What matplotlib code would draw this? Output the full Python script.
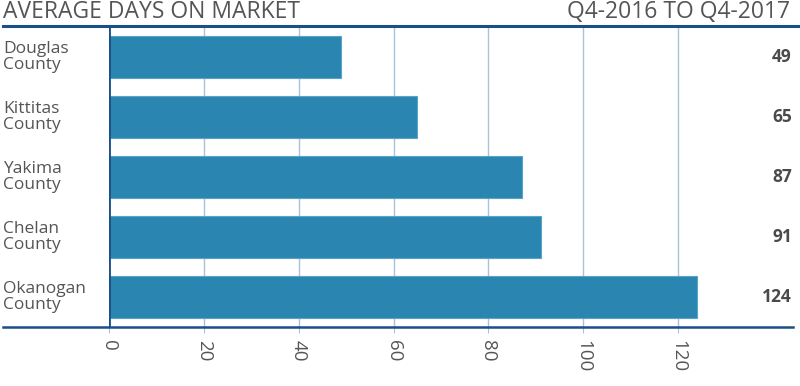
import matplotlib.pyplot as plt
import numpy as np

counties = ["Douglas\nCounty", "Kittitas\nCounty", "Yakima\nCounty",
            "Chelan\nCounty", "Okanogan\nCounty"]
days = [49, 65, 87, 91, 124]
xticks = [0, 20, 40, 60, 80, 100, 120]

bar_color = "#2a86b1"
navy = "#1b4f86"
grid_color = "#a8c2da"
text_color = "#555555"

plt.rcParams['font.family'] = ['Open Sans', 'DejaVu Sans']

fig = plt.figure(figsize=(8, 3.86), dpi=100, facecolor='white')
# axes spans x 109..792 px, y 27..327 px
ax = fig.add_axes([109 / 800, 1 - 327 / 386, (792 - 109) / 800, 300 / 386])

y = np.arange(len(counties))
ax.barh(y, days, height=0.69, color=bar_color, edgecolor="#5aa3c8",
        linewidth=0.8, zorder=3)
ax.set_ylim(len(counties) - 0.5, -0.5)
ax.set_xlim(0, 144)

ax.set_xticks(xticks)
ax.set_xticklabels([str(t) for t in xticks], rotation=-90, fontsize=13.5,
                   color=text_color)
ax.tick_params(axis='x', length=4, color=grid_color, pad=5)
ax.set_yticks([])
ax.grid(axis='x', color=grid_color, linewidth=1, zorder=0)

for s in ['top', 'right', 'left', 'bottom']:
    ax.spines[s].set_visible(False)
ax.axvline(0, color=navy, linewidth=2, zorder=4)

# county names and values outside the axes
for yi, name, v in zip(y, counties, days):
    ax.annotate(name, xy=(0, yi), xycoords=('axes fraction', 'data'),
                xytext=(-106, 0), textcoords='offset pixels',
                ha='left', va='center', fontsize=12.5, color=text_color,
                linespacing=1.0)
    ax.annotate(str(v), xy=(1, yi), xycoords=('axes fraction', 'data'),
                xytext=(0, 0), textcoords='offset pixels',
                ha='right', va='center', fontsize=12.5, fontweight='bold',
                color="#4a4a4a")

# frame lines
fig.add_artist(plt.Line2D([3 / 800, 1], [1 - 26 / 386] * 2, color=navy,
                          linewidth=2.2))
fig.add_artist(plt.Line2D([3 / 800, 793 / 800], [1 - 327 / 386] * 2,
                          color=navy, linewidth=1.8))

fig.text(3 / 800, 1 - 12 / 386, "AVERAGE DAYS ON MARKET", ha='left',
         va='center', fontsize=16.5, color=text_color)
fig.text(790 / 800, 1 - 12 / 386, "Q4-2016 TO Q4-2017", ha='right',
         va='center', fontsize=16.5, color=text_color)

fig.savefig("out.png", dpi=100, facecolor='white')
